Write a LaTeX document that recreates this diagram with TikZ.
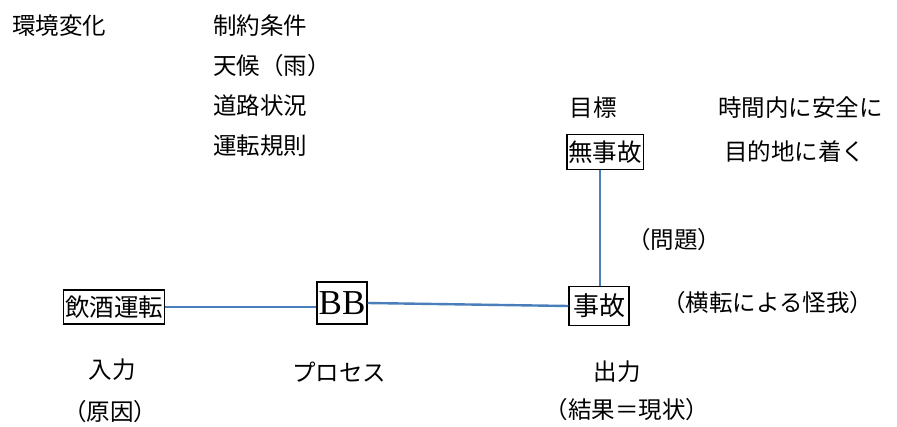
\documentclass[tikz,border=0pt]{standalone}
\usepackage{fontspec}
\newfontfamily\jp{Noto Sans CJK JP}
\setmainfont{Liberation Serif}
\begin{document}
\begin{tikzpicture}[x=1pt,y=-1pt,
  lbl/.style={font=\jp\fontsize{23.5}{25}\selectfont, inner sep=0pt},
  boxed/.style={draw=black, line width=1.5pt, font=\jp\fontsize{24.5}{26}\selectfont, inner sep=1.5pt},
  conn/.style={draw={rgb,255:red,74;green,126;blue,187}, line width=2.4pt}]
\useasboundingbox (0,0) rectangle (897,427);
% top-left labels
\node[lbl, anchor=west] (env) at (12,26) {環境変化};
\node[lbl, anchor=west] (c1) at (213,26) {制約条件};
\node[lbl, anchor=west] (c2) at (213,66) {天候（雨）};
\node[lbl, anchor=west] (c3) at (213,106) {道路状況};
\node[lbl, anchor=west] (c4) at (213,146) {運転規則};
% goal
\node[lbl] (goal) at (593,108) {目標};
\node[lbl, anchor=west] (g1) at (718,108) {時間内に安全に};
\node[lbl, anchor=west] (g2) at (724,152) {目的地に着く};
\node[boxed, minimum height=35pt] (nojiko) at (605,152) {無事故};
\node[lbl] (mondai) at (674,240) {（問題）};
% main row
\node[boxed, minimum height=34pt] (inshu) at (114,307) {飲酒運転};
\node[draw=black, line width=1.5pt, inner sep=1.5pt, minimum height=42pt, font=\fontsize{35}{37}\selectfont] (bb) at (342,303) {BB};
\node[boxed, minimum width=60pt, minimum height=39pt, font=\jp\fontsize{26}{28}\selectfont] (jiko) at (599,306) {事故};
\node[lbl, anchor=west] (outdesc) at (662,303) {（横転による怪我）};
% bottom labels
\node[lbl] (in1) at (112,370) {入力};
\node[lbl] (in2) at (110,412) {（原因）};
\node[lbl] (pr) at (339,372) {プロセス};
\node[lbl] (out1) at (617,372) {出力};
\node[lbl] (out2) at (627,410) {（結果＝現状）};
% connectors
\coordinate (vtop) at ([xshift=-5pt]nojiko.south);
\draw[conn] (inshu.east) -- (bb.west |- inshu.east);
\draw[conn] (bb.east) -- (jiko.west);
\draw[conn] (vtop) -- (vtop |- jiko.north);
\end{tikzpicture}
\end{document}
